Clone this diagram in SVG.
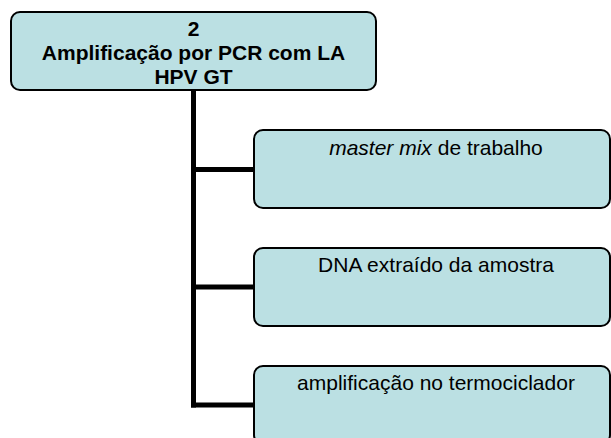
<svg xmlns="http://www.w3.org/2000/svg" width="611" height="438" viewBox="0 0 611 438">
<style>
.box{fill:#bbe0e3;stroke:#000;stroke-width:2}
.t{font-family:"Liberation Sans",Arial,sans-serif;font-size:21px;fill:#000;text-anchor:middle}
.b{font-weight:bold}
.c{stroke:#000;stroke-width:5;fill:none}
</style>
<rect width="611" height="438" fill="#fff"/>
<g id="connectors">
<path class="c" d="M193.5 90 V407.5"/>
<path class="c" d="M191 169.5 H254"/>
<path class="c" d="M191 287 H254"/>
<path class="c" d="M191 405 H254"/>
</g>
<g id="root">
<rect class="box" x="11" y="12" width="365" height="78" rx="9"/>
<text class="t b" x="193.5" y="36">2</text>
<text class="t b" x="193.5" y="60">Amplificação por PCR com LA</text>
<text class="t b" x="193.5" y="84">HPV GT</text>
</g>
<g id="n1">
<rect class="box" x="254" y="130" width="356" height="78" rx="9"/>
<text class="t" x="436" y="155"><tspan font-style="italic">master mix</tspan> de trabalho</text>
</g>
<g id="n2">
<rect class="box" x="254" y="248" width="356" height="78" rx="9"/>
<text class="t" x="436" y="272">DNA extraído da amostra</text>
</g>
<g id="n3">
<rect class="box" x="254" y="366" width="356" height="78" rx="9"/>
<text class="t" x="436" y="390">amplificação no termociclador</text>
</g>
</svg>
